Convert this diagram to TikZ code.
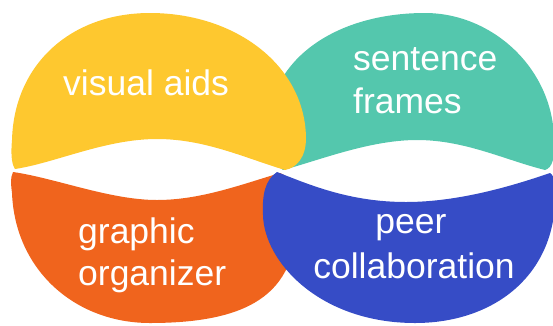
\documentclass[tikz,border=0pt]{standalone}
\usepackage{fontspec}
\setmainfont{Liberation Sans}
\definecolor{capyellow}{RGB}{254,200,47}
\definecolor{capteal}{RGB}{84,199,173}
\definecolor{caporange}{RGB}{240,100,29}
\definecolor{capblue}{RGB}{54,76,198}
\begin{document}
\begin{tikzpicture}[x=1pt,y=-1pt,
  petal/.style={fill=#1,draw=none},
  label/.style={text=white,inner sep=0pt,font=\fontsize{35.5}{42}\selectfont}]
\useasboundingbox (0,0) rectangle (553,325);
\begin{scope}
\clip (0,0) rectangle (553,325);
% upper right cap (lies under the yellow one)
\path[petal=capteal] (283,170) .. controls (270,160) and (266,140) .. (268,120)
  .. controls (275,55) and (340,13) .. (425,13)
  .. controls (490,13) and (550,65) .. (554,135)
  .. controls (556,158) and (552,168) .. (545,170)
  .. controls (505,160) and (465,140) .. (417,140)
  .. controls (370,140) and (320,160) .. (283,170) -- cycle;
% upper left cap
\path[petal=capyellow] (15,169) .. controls (11,163) and (11,152) .. (12,140)
  .. controls (14,65) and (70,13) .. (150,13)
  .. controls (235,13) and (305,65) .. (306,138)
  .. controls (306,158) and (296,168) .. (285,170)
  .. controls (245,158) and (205,139) .. (157,139)
  .. controls (105,139) and (55,163) .. (15,169) -- cycle;
% lower left bowl (lies under the blue one)
\path[petal=caporange] (13,172) .. controls (10,178) and (11,185) .. (12,193)
  .. controls (15,270) and (75,323) .. (150,323)
  .. controls (255,323) and (300,290) .. (296,210)
  .. controls (295,190) and (290,176) .. (280,173)
  .. controls (240,185) and (200,200) .. (157,200)
  .. controls (110,200) and (55,178) .. (13,172) -- cycle;
% lower right bowl
\path[petal=capblue] (277,172) .. controls (265,180) and (262,195) .. (263,215)
  .. controls (264,262) and (320,323) .. (415,323)
  .. controls (490,323) and (550,280) .. (555,205)
  .. controls (556,185) and (555,176) .. (550,173)
  .. controls (515,185) and (460,202) .. (406,202)
  .. controls (350,202) and (310,185) .. (277,172) -- cycle;
\end{scope}
% labels
\node[label,anchor=base west] (visual) at (63,95) {visual aids};
\node[label,anchor=base west] (sentence) at (353,70) {sentence};
\node[label,anchor=base west] (frames) at (353,113) {frames};
\node[label,anchor=base west] (graphic) at (78,243) {graphic};
\node[label,anchor=base west] (organizer) at (78,285) {organizer};
\node[label,anchor=base] (peer) at (411,233) {peer};
\node[label,anchor=base] (collab) at (414,278) {collaboration};
\end{tikzpicture}
\end{document}
